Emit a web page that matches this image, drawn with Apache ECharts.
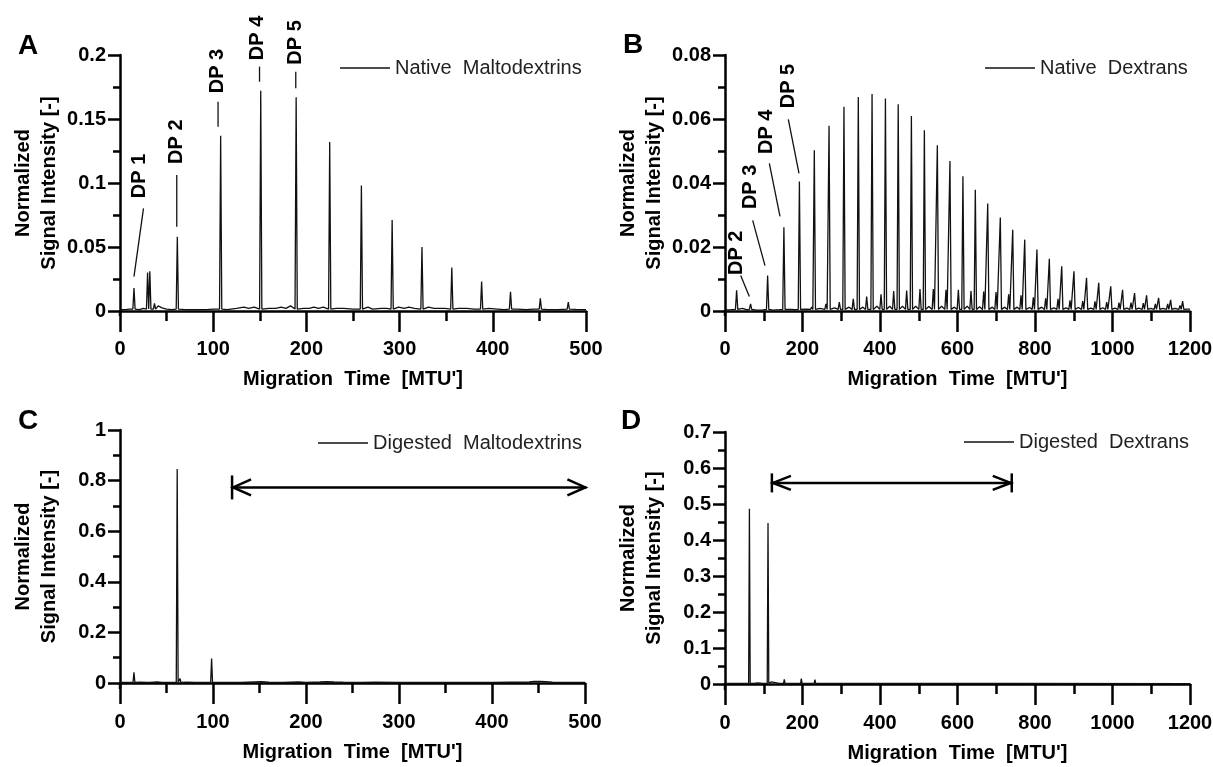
<!DOCTYPE html>
<html><head><meta charset="utf-8">
<script src="https://cdn.jsdelivr.net/npm/echarts@6/dist/echarts.min.js"></script>
<style>html,body{margin:0;padding:0;background:#fff}#c{width:1213px;height:767px}</style>
</head><body><div id="c"></div>
<script>
// ---------- DATA ----------
const seriesNames = ['Native  Maltodextrins', 'Native  Dextrans', 'Digested  Maltodextrins', 'Digested  Dextrans'];
const panelLetters = ['A', 'B', 'C', 'D'];
const xTitle = "Migration  Time  [MTU']";
const yTitle = 'Normalized\nSignal Intensity [-]';

const xTicksA = [0, 100, 200, 300, 400, 500];
const xTicksB = [0, 200, 400, 600, 800, 1000, 1200];
const yTicksA = [0, 0.05, 0.1, 0.15, 0.2];
const yTicksB = [0, 0.02, 0.04, 0.06, 0.08];
const yTicksC = [0, 0.2, 0.4, 0.6, 0.8, 1];
const yTicksD = [0, 0.1, 0.2, 0.3, 0.4, 0.5, 0.6, 0.7];

// Panel A: native maltodextrins (peak apex time / signal)
const peaksA_t = [15, 29.6, 32, 37, 61.5, 108, 151, 189, 225, 259, 292, 324, 356, 388, 419, 451, 481];
const peaksA_s = [0.018, 0.030, 0.031, 0.006, 0.058, 0.137, 0.172, 0.167, 0.132, 0.098, 0.071, 0.050, 0.034, 0.023, 0.015, 0.010, 0.007];
const baseA_t = [0, 6, 10, 21, 25, 41, 45, 50, 55, 68, 75, 85, 95, 101, 115, 125, 133, 138, 144, 160, 167, 173, 178, 183, 197, 203, 208, 213, 218, 232, 240, 250, 266, 271, 280, 286, 299, 305, 310, 316, 331, 337, 343, 349, 363, 372, 380, 396, 405, 412, 426, 436, 444, 459, 470, 489, 500];
const baseA_s = [0.001, 0.001, 0.0015, 0.001, 0.002, 0.004, 0.0025, 0.0015, 0.001, 0.0012, 0.001, 0.001, 0.0012, 0.0015, 0.001, 0.002, 0.003, 0.002, 0.003, 0.002, 0.002, 0.003, 0.002, 0.004, 0.002, 0.002, 0.003, 0.002, 0.003, 0.002, 0.002, 0.0015, 0.003, 0.0015, 0.002, 0.002, 0.003, 0.002, 0.003, 0.002, 0.003, 0.002, 0.002, 0.002, 0.002, 0.002, 0.0015, 0.002, 0.0015, 0.001, 0.0015, 0.001, 0.0015, 0.001, 0.001, 0.0012, 0.001];

// Panel B: native dextrans, main ladder + small satellite peaks
const peaksB_t = [30, 66, 110, 152, 192, 230.5, 268.5, 307, 344, 379.5, 414, 447, 481, 514.5, 548, 580.5, 614, 646, 678, 710.5, 742.5, 773.5, 805, 837, 869, 900.5, 933, 964.5, 995.5, 1026, 1057, 1088, 1119, 1150, 1181];
const peaksB_s = [0.0065, 0.0022, 0.0111, 0.0262, 0.0405, 0.0502, 0.0579, 0.0638, 0.0669, 0.0678, 0.0664, 0.0646, 0.0609, 0.0565, 0.0518, 0.0469, 0.0421, 0.0379, 0.0336, 0.0292, 0.0254, 0.0223, 0.0192, 0.0163, 0.0140, 0.0124, 0.0104, 0.0088, 0.0077, 0.0066, 0.0056, 0.0049, 0.0041, 0.0035, 0.0031];
const satB_t = [223.7, 260.6, 295, 331, 365.6, 402.6, 435.3, 468.8, 503.2, 537.6, 570.3, 602.2, 634.8, 667.6, 699.4, 732, 763.9, 795.7, 827.5, 859.4, 890.3, 923.1, 954.8, 985, 1016.8, 1047.7, 1079.5, 1110.5, 1142.4, 1174.2];
const satB_s = [0.0012, 0.0022, 0.0028, 0.0038, 0.0045, 0.0052, 0.0062, 0.0064, 0.0069, 0.0069, 0.0066, 0.0066, 0.0062, 0.0061, 0.0059, 0.0052, 0.0049, 0.0043, 0.0040, 0.0038, 0.0033, 0.0031, 0.0030, 0.0028, 0.0026, 0.0026, 0.0025, 0.0022, 0.0022, 0.0017];
const baseB_t = [0, 15, 45, 55, 82, 95, 125, 140, 170, 180, 210, 245, 283, 320, 356, 392, 425, 458, 492, 526, 559, 592, 625, 657, 690, 722, 754, 786, 817, 849, 880, 912, 944, 975, 1006, 1037, 1068, 1099, 1130, 1161, 1192, 1200];
const baseB_s = [0.0003, 0.0004, 0.0008, 0.0004, 0.0003, 0.0003, 0.0003, 0.0004, 0.0005, 0.0004, 0.0006, 0.0008, 0.0010, 0.0012, 0.0012, 0.0015, 0.0015, 0.0015, 0.0015, 0.0014, 0.0015, 0.0012, 0.0015, 0.0013, 0.0012, 0.0012, 0.0012, 0.0011, 0.0012, 0.0010, 0.0010, 0.0011, 0.0009, 0.0010, 0.0009, 0.0009, 0.0009, 0.0008, 0.0008, 0.0008, 0.0006, 0.0006];

// Panel C: digested maltodextrins
const peaksC_t = [15, 30, 33, 61.5, 64.5, 98.5];
const peaksC_s = [0.042, 0.006, 0.008, 0.846, 0.018, 0.097];
const baseC_t = [0, 8, 22, 40, 45, 52, 72, 80, 90, 110, 130, 145, 152, 160, 175, 192, 200, 215, 222, 230, 240, 260, 275, 300, 330, 360, 400, 420, 440, 445, 452, 458, 465, 480, 500];
const baseC_s = [0.002, 0.002, 0.003, 0.004, 0.002, 0.002, 0.003, 0.002, 0.002, 0.002, 0.002, 0.004, 0.005, 0.003, 0.002, 0.004, 0.002, 0.004, 0.005, 0.004, 0.003, 0.002, 0.003, 0.002, 0.002, 0.002, 0.002, 0.003, 0.004, 0.006, 0.006, 0.005, 0.003, 0.002, 0.002];

// Panel D: digested dextrans
const peaksD_t = [55, 63, 75, 100, 111, 120, 153, 188, 197, 232, 268];
const peaksD_s = [0.004, 0.487, 0.004, 0.005, 0.447, 0.006, 0.013, 0.007, 0.015, 0.012, 0.003];
const baseD_t = [0, 40, 85, 140, 175, 215, 250, 300, 500, 740, 745, 1200];
const baseD_s = [0.002, 0.002, 0.003, 0.002, 0.002, 0.002, 0.002, 0.002, 0.002, 0.002, 0.001, 0.001];

// Annotations (data coordinates)
const dpLabelsA = ['DP 1', 'DP 2', 'DP 3', 'DP 4', 'DP 5'];
const dpTextA_t = [21.1, 60.9, 104.5, 147.2, 188.6];
const dpTextA_s = [0.1055, 0.1323, 0.1875, 0.2133, 0.2098];
const dpLineA = [[25.2, 0.0802, 15.0, 0.0268], [60.9, 0.1063, 60.9, 0.0659], [105.2, 0.1635, 105.2, 0.144], [149.7, 0.1909, 149.7, 0.1791], [188.6, 0.187, 188.6, 0.174]];
const dpLabelsB = ['DP 2', 'DP 3', 'DP 4', 'DP 5'];
const dpTextB_t = [30.2, 64.5, 107.5, 163.4];
const dpTextB_s = [0.0182, 0.0388, 0.056, 0.0703];
const dpLineB = [[40.5, 0.0111, 62.8, 0.0045], [71.4, 0.0283, 103.2, 0.0142], [114.4, 0.0461, 141.9, 0.0296], [163.4, 0.0599, 191, 0.043]];
const arrowC = [120.5, 501.5, 0.773];   // from, to, level
const arrowD = [121, 740, 0.5586];

// ---------- BUILD ----------
const FONT = '"Liberation Sans", Arial, Helvetica, sans-serif';
function buildTrace(pt, ps, halfW, foot, bt, bs, extraT, extraS) {
  const pts = [];
  const allT = pt.concat(extraT || []), allS = ps.concat(extraS || []);
  allT.forEach((t, i) => { pts.push([t - halfW, foot]); pts.push([t, allS[i]]); pts.push([t + halfW, foot]); });
  bt.forEach((t, i) => { if (!allT.some(p => Math.abs(p - t) <= halfW * 1.2)) pts.push([t, bs[i]]); });
  pts.sort((a, b) => a[0] - b[0]);
  return pts;
}
const traces = [
  buildTrace(peaksA_t, peaksA_s, 1.2, 0.0015, baseA_t, baseA_s),
  buildTrace(peaksB_t, peaksB_s, 3, 0.0005, baseB_t, baseB_s, satB_t, satB_s),
  buildTrace(peaksC_t, peaksC_s, 1.0, 0.002, baseC_t, baseC_s),
  buildTrace(peaksD_t, peaksD_s, 2.0, 0.002, baseD_t, baseD_s)
];
const panels = [
  { grid: { left: 120, right: 627, top: 55, bottom: 456 }, xT: xTicksA, yT: yTicksA, off: 4 },
  { grid: { left: 725, right: 23, top: 55, bottom: 456 }, xT: xTicksB, yT: yTicksB, off: 4 },
  { grid: { left: 120, right: 628, top: 430, bottom: 84 }, xT: xTicksA, yT: yTicksC, off: 5 },
  { grid: { left: 725, right: 23, top: 432, bottom: 83 }, xT: xTicksB, yT: yTicksD, off: 5 }
];
const legendPos = [[340, 58], [985, 58], [318, 433], [964, 432]];
const letterPos = [[28, 46], [633, 45], [28, 421], [631, 421]];

const axisLine = { show: true, lineStyle: { color: '#000', width: 2.5 } };
const option = {
  animation: false,
  backgroundColor: '#fff',
  grid: panels.map(p => Object.assign({ containLabel: false, outerBoundsMode: 'none' }, p.grid)),
  xAxis: panels.map((p, i) => ({
    type: 'value', gridIndex: i, min: p.xT[0], max: p.xT[p.xT.length - 1], interval: p.xT[1] - p.xT[0],
    offset: p.off,
    axisLine: axisLine,
    axisTick: { show: true, length: 21, lineStyle: { color: '#000', width: 2.5 } },
    minorTick: { show: true, splitNumber: 2, length: 10, lineStyle: { color: '#000', width: 2.5 } },
    splitLine: { show: false },
    axisLabel: { margin: 24, fontSize: 20, fontWeight: 'bold', color: '#000', fontFamily: FONT, formatter: v => String(v) },
    name: xTitle, nameLocation: 'middle', nameGap: 54,
    nameTextStyle: { fontSize: 20, fontWeight: 'bold', color: '#000', fontFamily: FONT }
  })),
  yAxis: panels.map((p, i) => ({
    type: 'value', gridIndex: i, min: p.yT[0], max: p.yT[p.yT.length - 1], interval: p.yT[1] - p.yT[0],
    axisLine: axisLine,
    axisTick: { show: true, length: 12, lineStyle: { color: '#000', width: 2.5 } },
    minorTick: { show: true, splitNumber: 2, length: 7, lineStyle: { color: '#000', width: 2.5 } },
    splitLine: { show: false },
    axisLabel: { margin: 14, fontSize: 20, fontWeight: 'bold', color: '#000', fontFamily: FONT },
    name: yTitle, nameLocation: 'middle', nameGap: 58,
    nameTextStyle: { fontSize: 20, fontWeight: 'bold', color: '#000', fontFamily: FONT, lineHeight: 26 }
  })),
  legend: seriesNames.map((n, i) => ({
    data: [n], left: legendPos[i][0], top: legendPos[i][1], padding: 0,
    icon: 'rect', itemWidth: 50, itemHeight: 1.5, selectedMode: false,
    textStyle: { fontSize: 20, color: '#222', fontFamily: FONT }
  })),
  series: traces.map((d, i) => ({
    type: 'line', name: seriesNames[i], xAxisIndex: i, yAxisIndex: i, data: d,
    showSymbol: false, symbol: 'none', lineStyle: { color: '#111', width: 1.3 }, itemStyle: { color: '#111' }
  })),
  graphic: panelLetters.map((L, i) => ({
    type: 'text', x: letterPos[i][0], y: letterPos[i][1],
    style: { text: L, font: 'bold 28px ' + FONT, fill: '#000', align: 'center', verticalAlign: 'middle', textAlign: 'center', textVerticalAlign: 'middle' }
  }))
};
const chart = echarts.init(document.getElementById('c'), null, { renderer: 'canvas' });
chart.setOption(option);

// ---------- annotations through the chart's own coordinate conversion ----------
const px = (g, t, s) => chart.convertToPixel({ gridIndex: g }, [t, s]);
const gfx = [];
const lineStroke = { stroke: '#111', lineWidth: 1.3 };
function dpText(g, label, t, s) {
  const p = px(g, t, s);
  gfx.push({ type: 'text', x: p[0], y: p[1], rotation: Math.PI / 2,
    style: { text: label, font: 'bold 20px ' + FONT, fill: '#000', align: 'center', verticalAlign: 'middle', textAlign: 'center', textVerticalAlign: 'middle' } });
}
function seg(g, l) {
  const a = px(g, l[0], l[1]), b = px(g, l[2], l[3]);
  gfx.push({ type: 'line', shape: { x1: a[0], y1: a[1], x2: b[0], y2: b[1] }, style: lineStroke });
}
dpLabelsA.forEach((L, k) => { dpText(0, L, dpTextA_t[k], dpTextA_s[k]); seg(0, dpLineA[k]); });
dpLabelsB.forEach((L, k) => { dpText(1, L, dpTextB_t[k], dpTextB_s[k]); seg(1, dpLineB[k]); });
// y-axis line extension down to the offset x-axis
panels.forEach((p, i) => {
  const z = px(i, p.xT[0], 0);
  gfx.push({ type: 'line', shape: { x1: z[0], y1: z[1] - 1, x2: z[0], y2: z[1] + p.off + 1 }, style: { stroke: '#000', lineWidth: 2.5 } });
});
function arrow(g, a, barLeft, barRight, barH, headL, headW) {
  const l = px(g, a[0], a[2]), r = px(g, a[1], a[2]);
  const st = { stroke: '#000', lineWidth: 2.5, fill: null };
  gfx.push({ type: 'line', shape: { x1: l[0], y1: l[1], x2: r[0], y2: r[1] }, style: st });
  gfx.push({ type: 'polyline', shape: { points: [[l[0] + headL, l[1] - headW], [l[0] + 1, l[1]], [l[0] + headL, l[1] + headW]] }, style: st });
  gfx.push({ type: 'polyline', shape: { points: [[r[0] - headL, r[1] - headW], [r[0] - 1, r[1]], [r[0] - headL, r[1] + headW]] }, style: st });
  if (barLeft) gfx.push({ type: 'line', shape: { x1: l[0], y1: l[1] - barH, x2: l[0], y2: l[1] + barH }, style: st });
  if (barRight) gfx.push({ type: 'line', shape: { x1: r[0], y1: r[1] - barH, x2: r[0], y2: r[1] + barH }, style: st });
}
arrow(2, arrowC, true, false, 12, 19, 8);
arrow(3, arrowD, true, true, 9.5, 19, 7);
chart.setOption({ graphic: option.graphic.concat(gfx) });
</script></body></html>
